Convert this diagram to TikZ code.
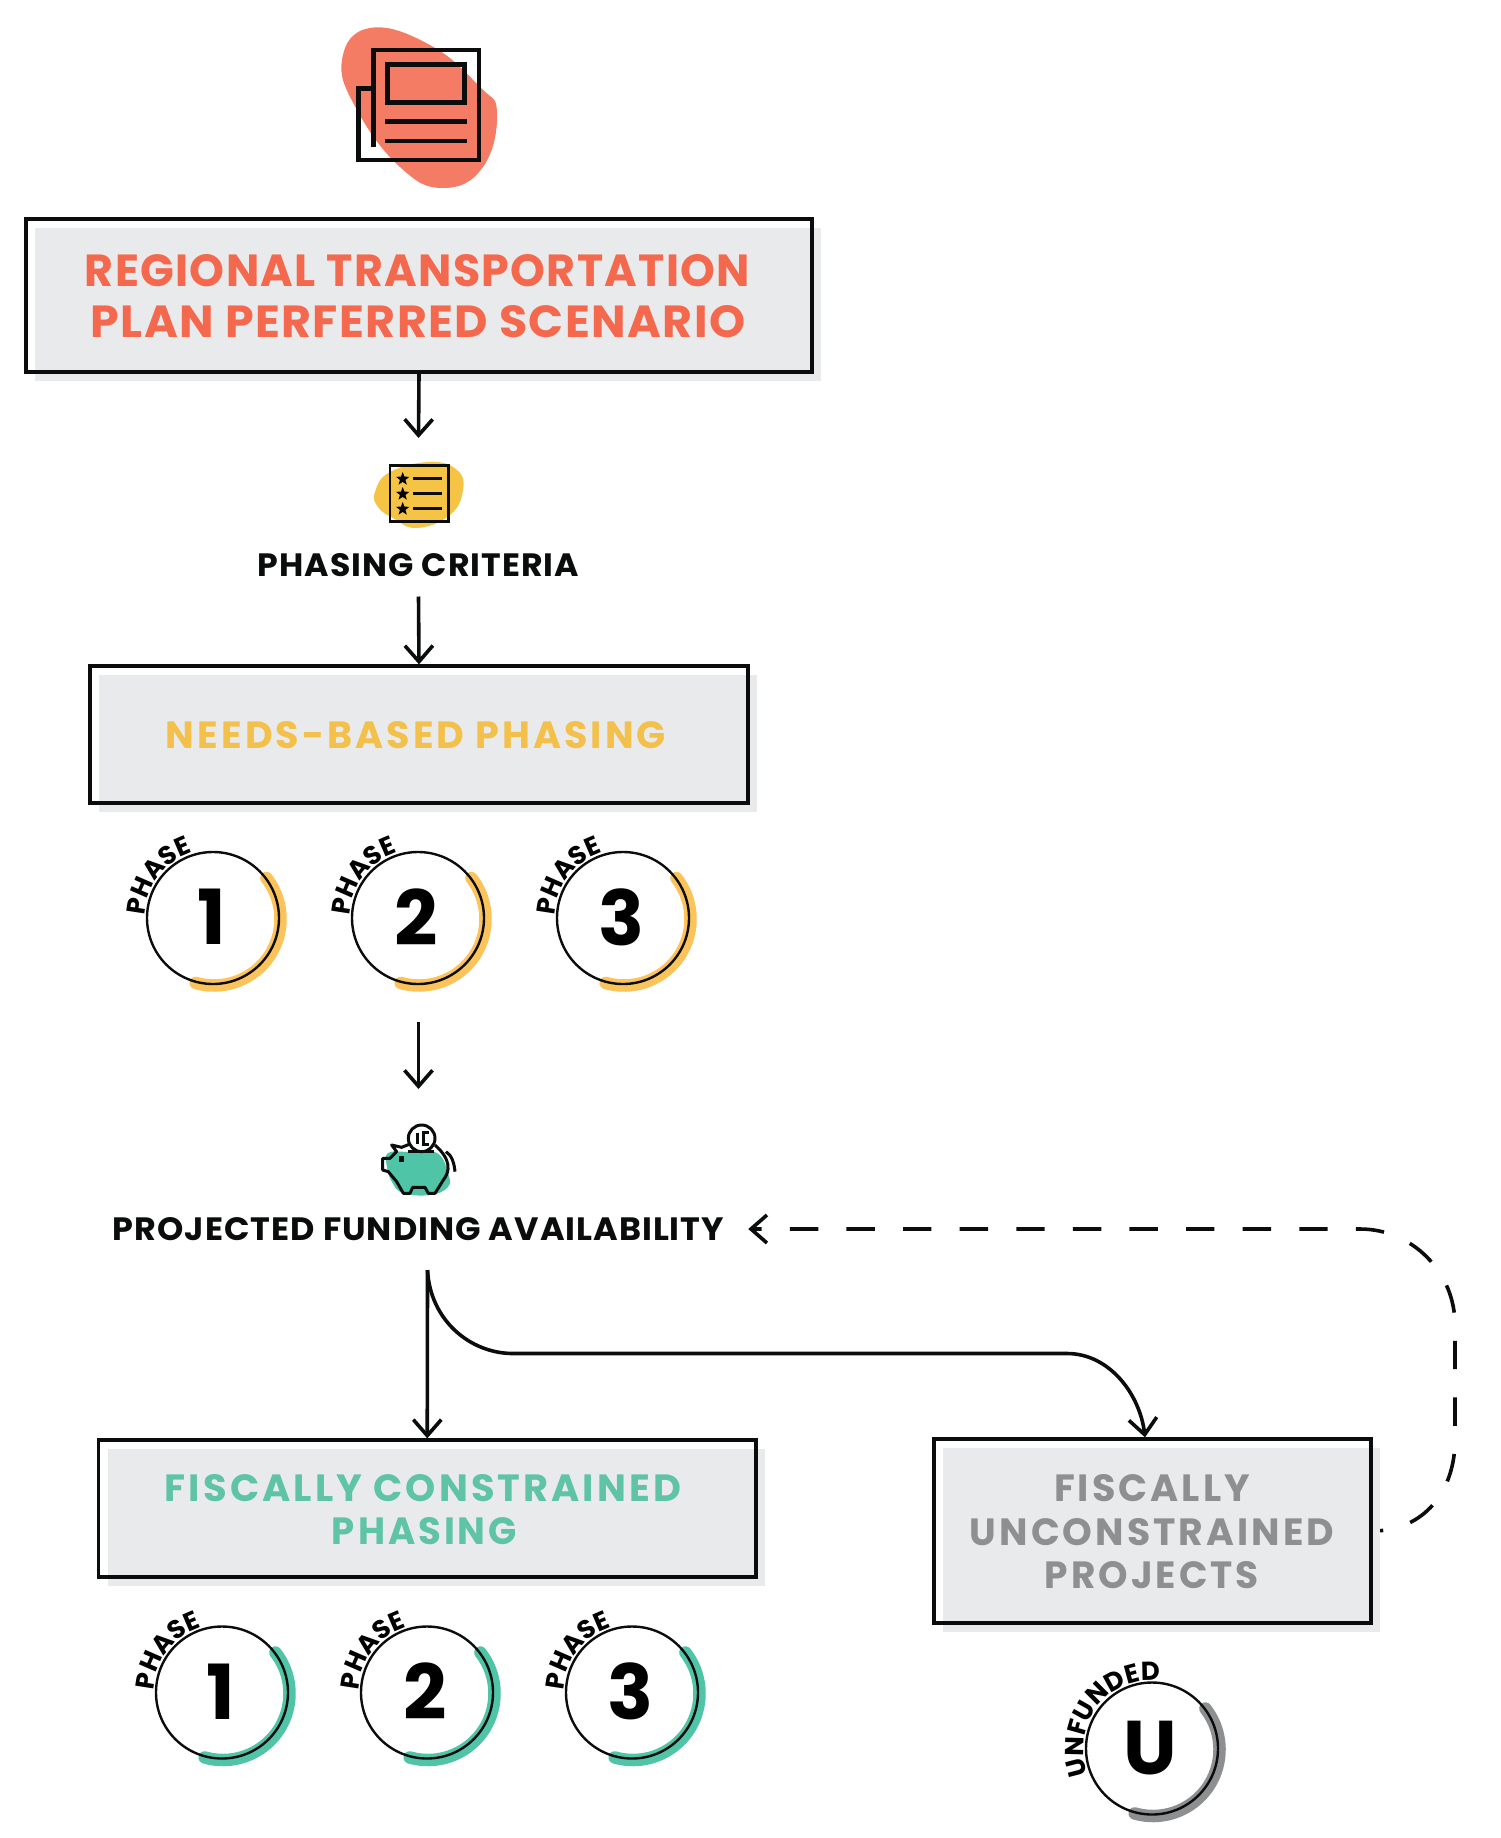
\documentclass[tikz,border=0pt]{standalone}
\usepackage{graphicx}
\usepackage{fontspec}
\setmainfont{Poppins}
\usetikzlibrary{arrows.meta,decorations.text,shapes.geometric}
\definecolor{boxgrey}{HTML}{E9EAEB}
\definecolor{coral}{HTML}{F57C64}
\definecolor{coraltxt}{HTML}{F4694D}
\definecolor{goldblob}{HTML}{F5C445}
\definecolor{goldtxt}{HTML}{F3C14B}
\definecolor{arcgold}{HTML}{FBC35A}
\definecolor{teal}{HTML}{50C4A6}
\definecolor{tealtxt}{HTML}{5FC4A6}
\definecolor{midgrey}{HTML}{8E8F91}
\definecolor{ink}{HTML}{0B0C0C}
\newcommand{\fitline}[3]{\resizebox{#1pt}{#2pt}{#3}}
\newcommand{\trk}{\addfontfeatures{LetterSpace=8}}
\newcommand{\trklite}{\addfontfeatures{LetterSpace=3}}
\newcommand{\curvefont}{\bfseries\fontsize{26}{26}\selectfont}
\tikzset{
 x=1pt,y=1pt,
 >={Straight Barb[length=16pt,width=28pt,line width=3.6pt]},
 flow/.style={draw=ink,line width=3.6pt,->},
 backflow/.style={draw=ink,line width=3.6pt,<-,dash pattern=on 28.4pt off 28.2pt,dash phase=19.5pt},
 framebox/.style={draw=ink,line width=3.3pt,minimum width=#1,inner sep=0pt},
 shadowbox/.style={fill=boxgrey},
 title/.style={font=\bfseries,inner sep=0pt,align=center},
 plainlabel/.style={font=\bfseries,text=ink,inner sep=0pt},
 ringnode/.style={circle,draw=ink,line width=2.4pt,minimum size=132pt,inner sep=0pt,
   font=\bfseries\fontsize{76}{80}\selectfont,text=black},
 iconline/.style={draw=ink,line width=4.8pt},
 tinystar/.style={star,star points=5,star point ratio=2.4,fill=black,minimum size=14pt,inner sep=0pt},
}
% name, x1, y1, x2, y2 (y measured downwards)
\newcommand{\blockbox}[5]{%
  \fill[shadowbox] (#2+9,-#3-9) rectangle (#4+9,-#5-9);
  \node[framebox=#4pt-#2pt,minimum height=#5pt-#3pt] (#1) at ({(#2+#4)/2},{-(#3+#5)/2}) {};
}
% name, cx, cy, arc colour, label, start angle, end angle, number
\newcommand{\ringunit}[8]{%
  \draw[line width=12.5pt,line cap=round,draw=#4] ([shift={(38:66.5)}]#2+1,-#3-1) arc[start angle=38,end angle=-106,radius=66.5];
  \node[ringnode] (#1) at (#2,-#3) {\raisebox{2pt}{#8\hspace*{3pt}}};
  \path[decorate,decoration={text along path,text align={fit to path},text={|\curvefont|#5}}]
    ([shift={(#6:68.5)}]#2,-#3) arc[start angle=#6,end angle=#7,radius=68.5];
}
\begin{document}
\begin{tikzpicture}
\useasboundingbox (0,0) rectangle (1500,-1838);
% ---- top icon
\fill[coral] plot[smooth cycle,tension=.75] coordinates {(370,-28) (342,-60) (357,-110) (400,-167) (443,-188) (483,-167) (497,-113) (480,-87) (430,-45)};
\draw[iconline,line join=miter] (373.3,-147.3) -- (373.3,-50) -- (479,-50) -- (479,-160) -- (358.3,-160) -- (358.3,-88.3) -- (373.3,-88.3);
\draw[iconline] (387.7,-64.3) rectangle (464.3,-102.7);
\draw[iconline] (385.3,-121.7) -- (466.7,-121.7);
\draw[iconline] (385.3,-141) -- (466.7,-141);
% ---- box 1
\blockbox{boxA}{26}{219}{812}{372}
\node[title,text=coraltxt] (boxAone) at (417.5,-271) {\fitline{665}{32}{\trklite REGIONAL TRANSPORTATION}};
\node[title,text=coraltxt] (boxAtwo) at (418,-322) {\fitline{654}{32}{\trklite PLAN PERFERRED SCENARIO}};
% ---- criteria icon
\fill[goldblob] plot[smooth cycle,tension=.75] coordinates {(375,-492) (390,-472) (430,-462) (457,-470) (463,-490) (450,-515) (417,-528) (393,-518) (378,-507)};
\draw[draw=ink,line width=2.8pt] (390,-465.7) rectangle (448.3,-521.7);
\node[tinystar] (starA) at (402.7,-479) {};
\node[tinystar] (starB) at (402.7,-494) {};
\node[tinystar] (starC) at (402.7,-509) {};
\draw[draw=ink,line width=2.5pt] (413,-478.7) -- (441.7,-478.7);
\draw[draw=ink,line width=2.5pt] (413,-493.7) -- (441.7,-493.7);
\draw[draw=ink,line width=2.5pt] (413,-508.7) -- (441.7,-508.7);
\node[plainlabel] (crit) at (418.5,-565) {\fitline{321}{23}{\trklite PHASING CRITERIA}};
% ---- box 2
\blockbox{boxB}{90}{666}{748}{803}
\node[title,text=goldtxt] (boxBone) at (416,-735) {\fitline{500}{27}{\trk NEEDS-BASED PHASING}};
% ---- rings top
\ringunit{ringA}{213}{918}{arcgold}{PHASE}{178}{108}{1}
\ringunit{ringB}{418}{918}{arcgold}{PHASE}{178}{108}{2}
\ringunit{ringC}{623}{918}{arcgold}{PHASE}{178}{108}{3}
% ---- piggy
\fill[teal] plot[smooth cycle,tension=.7] coordinates {(388,-1153) (410,-1152) (437,-1153) (448,-1173) (448,-1187) (430,-1195) (403,-1193) (392,-1182) (387,-1167)};
\begin{scope}[shift={(360,-1110)},x=.3333pt,y=-.3333pt]
\draw[draw=ink,line width=3pt] (185,85) circle[radius=40];
\draw[draw=ink,line width=3pt] (172,68) -- (172,102);
\draw[draw=ink,line width=3pt] (206,68) -- (192,68) -- (192,102) -- (206,102);
\draw[draw=ink,line width=3pt] (145,125) -- (222,125);
\draw[draw=ink,line width=3pt,line join=round] (150,102) -- (125,112) -- (95,105) -- (110,125) -- (90,145) -- (68,145) -- (68,180) -- (85,185) -- (110,215) -- (130,250) -- (150,250) -- (158,232) -- (195,232) -- (205,250) -- (225,250) -- (250,210) .. controls (270,185) and (275,150) .. (225,105);
\draw[draw=ink,line width=3pt] (258,125) .. controls (275,135) and (283,160) .. (285,185);
\fill[ink] (118,137) rectangle (133,155);
\end{scope}
\node[plainlabel] (fund) at (418.5,-1229) {\fitline{611}{23}{\trklite PROJECTED FUNDING AVAILABILITY}};
% ---- box 3 and 4
\coordinate (dashstart) at (1372,-1531);
\draw[backflow] ([xshift=24pt]fund.east) -- (1360,-1229) .. controls (1412,-1229) and (1455,-1272) .. (1455,-1325) -- (1455,-1440) .. controls (1455,-1490) and (1425,-1531) .. (dashstart);
\blockbox{boxC}{98.5}{1440}{756}{1577}
\node[title,text=tealtxt] (boxCone) at (423,-1488) {\fitline{516}{27}{\trk FISCALLY CONSTRAINED}};
\node[title,text=tealtxt] (boxCtwo) at (424.5,-1531) {\fitline{185}{27}{\trk PHASING}};
\blockbox{boxD}{934}{1439}{1371}{1623}
\node[title,text=midgrey] (boxDone) at (1152,-1488) {\fitline{196}{27}{\trk FISCALLY}};
\node[title,text=midgrey] (boxDtwo) at (1152,-1532) {\fitline{364}{27}{\trk UNCONSTRAINED}};
\node[title,text=midgrey] (boxDthree) at (1152,-1575) {\fitline{214}{27}{\trk PROJECTS}};
% ---- rings bottom
\ringunit{ringD}{222}{1692.5}{teal}{PHASE}{178}{108}{1}
\ringunit{ringE}{427}{1692.5}{teal}{PHASE}{178}{108}{2}
\ringunit{ringF}{632}{1692.5}{teal}{PHASE}{178}{108}{3}
\ringunit{ringU}{1152}{1748.5}{midgrey}{UNFUNDED}{202}{85}{U}
% ---- connectors
\coordinate (critin) at (418.5,-438);
\coordinate (critout) at (418.5,-596.5);
\coordinate (needsout) at (418.5,-1022);
\coordinate (needsend) at (418.5,-1089);
\coordinate (fundout) at (427.5,-1270);
\draw[flow] (boxA.south) -- (critin);
\draw[flow] (critout) -- (boxB.north);
\draw[flow] (needsout) -- (needsend);
\draw[flow] (fundout) -- (boxC.north);
\draw[flow] (fundout) .. controls (430,-1320) and (470,-1353.5) .. (513,-1353.5) -- (1067,-1353.5) .. controls (1110,-1353.5) and (1140,-1395) .. ([xshift=-7.5pt]boxD.north);
\end{tikzpicture}
\end{document}
